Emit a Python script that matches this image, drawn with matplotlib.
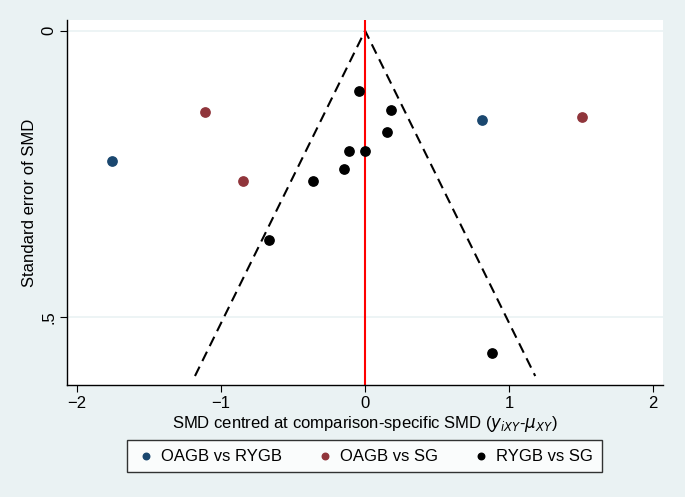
import matplotlib.pyplot as plt
import numpy as np

plt.rcParams['font.family'] = ['Liberation Sans', 'DejaVu Sans']

# SMD centred, standard error
oagb_rygb_x = [-1.76, 0.81]
oagb_rygb_se = [0.227, 0.156]
oagb_sg_x = [-1.11, -0.85, 1.51]
oagb_sg_se = [0.142, 0.262, 0.150]
rygb_sg_x = [-0.04, 0.18, 0.15, -0.11, 0.00, -0.15, -0.36, -0.67, 0.88]
rygb_sg_se = [0.105, 0.138, 0.177, 0.210, 0.210, 0.241, 0.262, 0.365, 0.562]
se_max = 0.603

bg = '#eaf2f3'
fig = plt.figure(figsize=(6.85, 4.97), dpi=100, facecolor=bg)
ax = fig.add_axes([0.098, 0.225, 0.87, 0.735])
ax.set_facecolor('white')

ax.axhline(0, color=bg, lw=1.2, zorder=0)
ax.axhline(0.5, color=bg, lw=1.2, zorder=0)

ax.plot([-1.96 * se_max, 0, 1.96 * se_max], [se_max, 0, se_max],
        color='black', ls=(0, (5, 3)), lw=1.5, zorder=2)
ax.axvline(0, color='red', lw=1.5, zorder=2)

ax.scatter(oagb_rygb_x, oagb_rygb_se, s=45, color='#1a476f', label='OAGB vs RYGB', zorder=3)
ax.scatter(oagb_sg_x, oagb_sg_se, s=45, color='#90353b', label='OAGB vs SG', zorder=3)
ax.scatter(rygb_sg_x, rygb_sg_se, s=45, color='black', label='RYGB vs SG', zorder=3)

ax.set_xlim(-2.07, 2.07)
ax.set_ylim(0.619, -0.019)
ax.set_xticks([-2, -1, 0, 1, 2])
ax.set_yticks([0, 0.5])
ax.set_yticklabels(['0', '.5'], rotation=90, va='center')
ax.tick_params(labelsize=12, length=5, width=0.8, pad=3)
for side in ['top', 'right']:
    ax.spines[side].set_visible(False)
ax.spines['left'].set_linewidth(1.0)
ax.spines['bottom'].set_linewidth(1.0)

ax.set_xlabel(r'SMD centred at comparison-specific SMD ($y_{iXY}$-$\mu_{XY}$)', fontsize=12, labelpad=2)
ax.set_ylabel('Standard error of SMD', fontsize=12, labelpad=3)

leg = fig.legend(loc='center', bbox_to_anchor=(0.532, 0.082), ncol=3, fontsize=12,
                 frameon=True, fancybox=False, handletextpad=0.3, columnspacing=2.0,
                 markerscale=0.7, borderpad=0.5, handlelength=1.2)
leg.get_frame().set_edgecolor('black')
leg.get_frame().set_linewidth(1.0)

fig.savefig('out.png', dpi=100, facecolor=bg)
